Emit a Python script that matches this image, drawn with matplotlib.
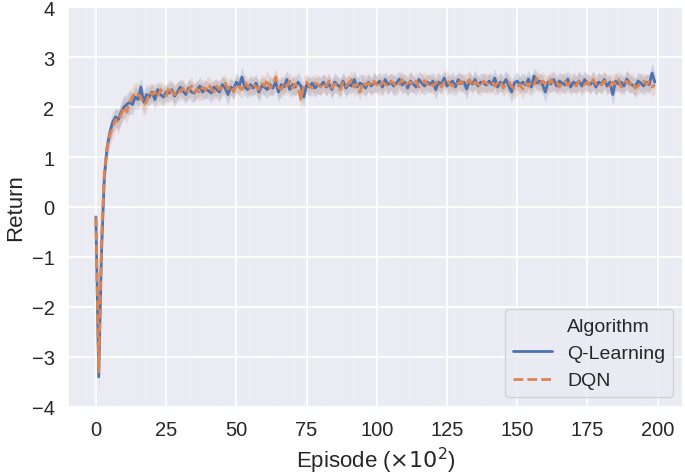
import matplotlib
matplotlib.use("Agg")
import matplotlib.pyplot as plt
import seaborn as sns
import numpy as np
from matplotlib.lines import Line2D
from matplotlib.ticker import MultipleLocator

sns.set_theme(style="darkgrid")
plt.rcParams['font.family'] = ['Liberation Sans', 'DejaVu Sans']

# 에피소드 (x10^2)
episodes = list(range(200))

q_mean = [
    -0.20, -3.40, -0.90, 0.60, 1.20, 1.50, 1.70, 1.80, 1.75, 1.90,
    2.00, 2.05, 2.10, 2.05, 2.20, 2.15, 2.40, 2.10, 2.25, 2.20,
    2.30, 2.15, 2.35, 2.25, 2.20, 2.30, 2.28, 2.35, 2.22, 2.30, 2.40, 2.32, 2.25, 2.38, 2.30, 2.28, 2.35, 2.42, 2.30, 2.36,
    2.33, 2.28, 2.40, 2.35, 2.30, 2.45, 2.38, 2.25, 2.40, 2.35, 2.50, 2.42, 2.60, 2.40, 2.35, 2.45, 2.38, 2.48, 2.30, 2.42,
    2.40, 2.35, 2.45, 2.38, 2.50, 2.30, 2.45, 2.40, 2.55, 2.35, 2.45, 2.40, 2.50, 2.42, 2.20, 2.45, 2.40, 2.48, 2.38, 2.44,
    2.42, 2.50, 2.40, 2.46, 2.35, 2.50, 2.44, 2.40, 2.52, 2.38, 2.46, 2.42, 2.55, 2.40, 2.48, 2.45, 2.38, 2.50, 2.42, 2.48,
    2.46, 2.52, 2.40, 2.55, 2.45, 2.50, 2.42, 2.48, 2.56, 2.44, 2.50, 2.38, 2.52, 2.46, 2.40, 2.55, 2.48, 2.42, 2.50, 2.45,
    2.52, 2.35, 2.50, 2.46, 2.58, 2.42, 2.48, 2.52, 2.40, 2.55, 2.47, 2.50, 2.36, 2.52, 2.46, 2.55, 2.42, 2.50, 2.48, 2.44,
    2.52, 2.45, 2.58, 2.40, 2.50, 2.46, 2.55, 2.42, 2.30, 2.48, 2.52, 2.45, 2.50, 2.44, 2.56, 2.40, 2.62, 2.48, 2.52, 2.45,
    2.30, 2.50, 2.46, 2.55, 2.42, 2.52, 2.48, 2.44, 2.56, 2.40, 2.50, 2.46, 2.52, 2.42, 2.55, 2.48, 2.45, 2.52, 2.40, 2.50,
    2.46, 2.55, 2.42, 2.50, 2.25, 2.52, 2.46, 2.50, 2.42, 2.56, 2.48, 2.44, 2.40, 2.52, 2.48, 2.42, 2.50, 2.45, 2.68, 2.50,
]

dqn_mean = [
    -0.20, -3.30, -0.60, 0.70, 1.20, 1.45, 1.60, 1.75, 1.70, 1.85,
    2.00, 1.90, 2.10, 2.20, 2.30, 2.25, 2.20, 2.05, 2.10, 2.30,
    2.25, 2.30, 2.20, 2.35, 2.28, 2.22, 2.40, 2.30, 2.25, 2.35, 2.30, 2.38, 2.28, 2.33, 2.42, 2.30, 2.36, 2.28, 2.40, 2.34,
    2.45, 2.38, 2.30, 2.42, 2.35, 2.40, 2.48, 2.36, 2.42, 2.30, 2.45, 2.40, 2.35, 2.50, 2.42, 2.38, 2.46, 2.40, 2.35, 2.48,
    2.42, 2.55, 2.38, 2.45, 2.60, 2.40, 2.35, 2.48, 2.42, 2.52, 2.38, 2.46, 2.40, 2.15, 2.44, 2.50, 2.42, 2.38, 2.48, 2.45,
    2.40, 2.48, 2.42, 2.52, 2.38, 2.46, 2.44, 2.35, 2.50, 2.42, 2.48, 2.55, 2.40, 2.46, 2.30, 2.50, 2.44, 2.48, 2.40, 2.52,
    2.45, 2.40, 2.50, 2.46, 2.42, 2.52, 2.48, 2.40, 2.46, 2.55, 2.42, 2.48, 2.50, 2.44, 2.52, 2.40, 2.47, 2.53, 2.45, 2.50,
    2.42, 2.48, 2.52, 2.40, 2.50, 2.55, 2.45, 2.42, 2.50, 2.46, 2.52, 2.44, 2.48, 2.55, 2.42, 2.50, 2.46, 2.40, 2.52, 2.48,
    2.45, 2.50, 2.42, 2.48, 2.52, 2.38, 2.46, 2.50, 2.42, 2.35, 2.40, 2.45, 2.36, 2.48, 2.42, 2.50, 2.45, 2.58, 2.46, 2.52,
    2.48, 2.42, 2.55, 2.45, 2.50, 2.40, 2.48, 2.52, 2.44, 2.50, 2.46, 2.42, 2.52, 2.48, 2.45, 2.50, 2.42, 2.55, 2.46, 2.50,
    2.44, 2.52, 2.48, 2.42, 2.50, 2.46, 2.55, 2.40, 2.48, 2.52, 2.45, 2.50, 2.38, 2.42, 2.48, 2.52, 2.45, 2.50, 2.40, 2.45,
]

# 신뢰구간 반폭
q_spread = [
    0.10, 0.30, 0.30, 0.25, 0.22, 0.20, 0.20, 0.18, 0.20, 0.20, 0.22, 0.20, 0.25, 0.20, 0.22, 0.20, 0.20, 0.22, 0.20, 0.18,
    0.18, 0.20, 0.17, 0.19, 0.18, 0.16, 0.19, 0.17, 0.21, 0.18, 0.16, 0.19, 0.18, 0.17, 0.20, 0.18, 0.16, 0.19, 0.17, 0.18,
    0.17, 0.19, 0.16, 0.18, 0.20, 0.17, 0.18, 0.21, 0.16, 0.18, 0.19, 0.17, 0.21, 0.18, 0.16, 0.19, 0.17, 0.18, 0.20, 0.16,
    0.18, 0.17, 0.19, 0.16, 0.18, 0.21, 0.17, 0.18, 0.19, 0.16, 0.18, 0.17, 0.20, 0.18, 0.21, 0.17, 0.18, 0.16, 0.19, 0.17,
    0.18, 0.16, 0.19, 0.17, 0.18, 0.20, 0.16, 0.18, 0.17, 0.19, 0.18, 0.16, 0.19, 0.17, 0.18, 0.20, 0.17, 0.18, 0.16, 0.19,
    0.17, 0.18, 0.19, 0.16, 0.18, 0.17, 0.20, 0.18, 0.16, 0.19, 0.17, 0.18, 0.19, 0.16, 0.18, 0.17, 0.19, 0.18, 0.16, 0.17,
    0.18, 0.20, 0.17, 0.18, 0.16, 0.19, 0.17, 0.18, 0.19, 0.16, 0.18, 0.17, 0.20, 0.18, 0.16, 0.19, 0.17, 0.18, 0.19, 0.16,
    0.18, 0.17, 0.19, 0.16, 0.18, 0.17, 0.19, 0.18, 0.21, 0.17, 0.18, 0.16, 0.19, 0.17, 0.18, 0.20, 0.17, 0.18, 0.16, 0.19,
    0.21, 0.17, 0.18, 0.19, 0.16, 0.18, 0.17, 0.19, 0.18, 0.16, 0.19, 0.17, 0.18, 0.20, 0.17, 0.18, 0.16, 0.19, 0.17, 0.18,
    0.19, 0.16, 0.18, 0.17, 0.21, 0.18, 0.16, 0.19, 0.17, 0.18, 0.19, 0.16, 0.18, 0.17, 0.19, 0.18, 0.16, 0.19, 0.21, 0.18,
]

dqn_spread = [
    0.10, 0.25, 0.30, 0.25, 0.22, 0.22, 0.20, 0.20, 0.22, 0.20, 0.22, 0.24, 0.20, 0.22, 0.20, 0.22, 0.24, 0.22, 0.20, 0.18,
    0.19, 0.18, 0.20, 0.17, 0.19, 0.18, 0.16, 0.19, 0.18, 0.17, 0.19, 0.18, 0.16, 0.20, 0.18, 0.17, 0.19, 0.18, 0.16, 0.19,
    0.18, 0.17, 0.19, 0.16, 0.18, 0.20, 0.17, 0.18, 0.19, 0.16, 0.18, 0.17, 0.19, 0.18, 0.16, 0.19, 0.17, 0.18, 0.20, 0.17,
    0.18, 0.19, 0.16, 0.18, 0.17, 0.19, 0.18, 0.16, 0.19, 0.17, 0.18, 0.20, 0.17, 0.21, 0.18, 0.16, 0.19, 0.17, 0.18, 0.19,
    0.17, 0.18, 0.19, 0.16, 0.18, 0.17, 0.19, 0.18, 0.16, 0.19, 0.17, 0.18, 0.20, 0.17, 0.18, 0.16, 0.19, 0.17, 0.18, 0.19,
    0.18, 0.17, 0.19, 0.16, 0.18, 0.17, 0.19, 0.18, 0.16, 0.19, 0.17, 0.18, 0.20, 0.17, 0.18, 0.16, 0.19, 0.17, 0.18, 0.19,
    0.17, 0.18, 0.19, 0.16, 0.18, 0.17, 0.19, 0.18, 0.16, 0.19, 0.17, 0.18, 0.20, 0.17, 0.18, 0.16, 0.19, 0.17, 0.18, 0.19,
    0.18, 0.17, 0.19, 0.16, 0.18, 0.17, 0.19, 0.18, 0.16, 0.19, 0.17, 0.18, 0.20, 0.17, 0.18, 0.16, 0.19, 0.17, 0.18, 0.19,
    0.17, 0.18, 0.19, 0.16, 0.18, 0.17, 0.19, 0.18, 0.16, 0.19, 0.17, 0.18, 0.20, 0.17, 0.18, 0.16, 0.19, 0.17, 0.18, 0.19,
    0.18, 0.17, 0.19, 0.16, 0.18, 0.17, 0.19, 0.18, 0.16, 0.19, 0.17, 0.18, 0.20, 0.17, 0.18, 0.16, 0.19, 0.17, 0.18, 0.19,
]

algorithms = ["Q-Learning", "DQN"]
colors = sns.color_palette("deep")[:2]
styles = ["-", (0, (3.5, 1.5))]

fig = plt.figure(figsize=(6.85, 4.77), dpi=100)
ax = fig.add_axes([0.099, 0.145, 0.898, 0.838])

x = np.array(episodes)
for name, mean, spread, c, ls in zip(algorithms, [q_mean, dqn_mean], [q_spread, dqn_spread], colors, styles):
    m = np.array(mean)
    s = np.array(spread)
    ax.fill_between(x, m - s, m + s, color=c, alpha=0.2, linewidth=0)
    ax.plot(x, m, color=c, linestyle=ls, linewidth=2, label=name)

ax.set_xlim(-10, 209)
ax.set_ylim(-4, 4)
ax.set_xticks(range(0, 201, 25))
ax.xaxis.set_minor_locator(MultipleLocator(1))
ax.grid(which="minor", axis="x", color="white", linewidth=0.4, alpha=0.3)
ax.grid(which="major", color="white", linewidth=1.3)
ax.tick_params(labelsize=14.5)
ax.set_xlabel(r"Episode ($\times 10^2$)", fontsize=16)
ax.set_ylabel("Return", fontsize=16)

handles = [Line2D([], [], linestyle="none", label="Algorithm")]
for name, c, ls in zip(algorithms, colors, styles):
    handles.append(Line2D([], [], color=c, linestyle=ls, linewidth=2, label=name))
leg = ax.legend(handles=handles, loc="lower right", fontsize=14, frameon=True)

fig.savefig("out.png", dpi=100)
